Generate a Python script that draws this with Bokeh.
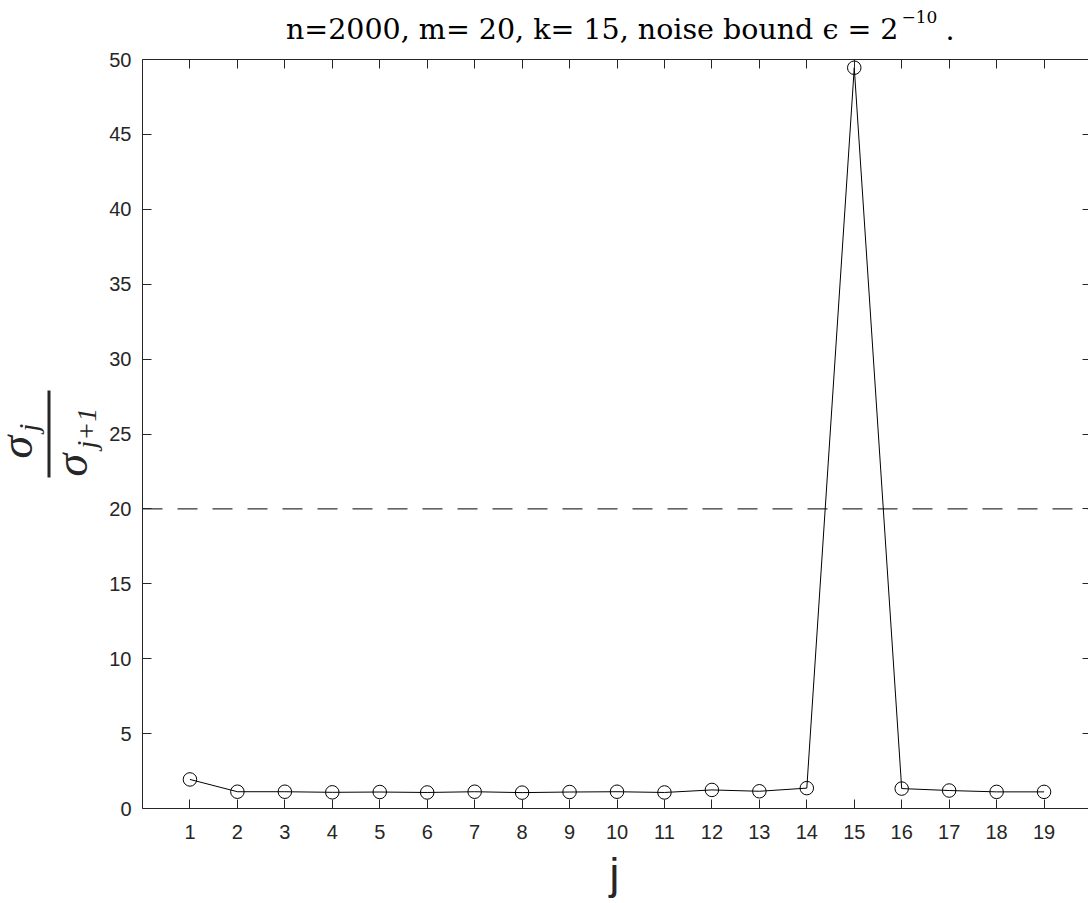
from bokeh.plotting import figure
from bokeh.models import (Range1d, LinearAxis, FixedTicker, Label, Arrow,
                          CustomLabelingPolicy)
from bokeh.embed import file_html
from bokeh.resources import INLINE

# ---- data ----
j_values = list(range(1, 20))
ratios = [1.94, 1.12, 1.12, 1.08, 1.10, 1.07, 1.12, 1.06, 1.10, 1.12,
          1.07, 1.24, 1.15, 1.36, 49.45, 1.33, 1.20, 1.11, 1.11]
threshold = 20
x_lim = [0, 20]
y_lim = [0, 50]
x_ticks = list(range(1, 20))
y_ticks = [0, 5, 10, 15, 20, 25, 30, 35, 40, 45, 50]
title_main = "n=2000, m= 20, k= 15, noise bound \u03f5 = 2"
title_sup = "\u221210"
title_end = "."
xlabel = "j"

AX = "#262626"
W, H = 1088, 902
# axes box in page pixels
L, R, T, B = 142, 1091, 59, 808
xs = (R - L) / (x_lim[1] - x_lim[0])
ys = (B - T) / (y_lim[1] - y_lim[0])

p = figure(width=W, height=H, min_border=0,
           x_range=Range1d(x_lim[0] - L / xs, x_lim[0] + (W - L) / xs),
           y_range=Range1d(y_lim[0] - (H - B) / ys, y_lim[1] + T / ys),
           output_backend="svg", toolbar_location=None,
           x_axis_type=None, y_axis_type=None,
           background_fill_color="white", border_fill_color="white")
p.outline_line_color = None
p.grid.visible = False

no_labels = CustomLabelingPolicy(
    code="for (let i = 0; i < indices.size; i++) { indices.unset(i) } return indices")

def mk_axis(ticks, loc, bounds, labels=True):
    ax = LinearAxis(ticker=FixedTicker(ticks=ticks), fixed_location=loc, bounds=bounds)
    ax.axis_line_color = AX
    ax.major_tick_line_color = AX
    ax.major_tick_in = 9
    ax.major_tick_out = 0
    ax.minor_tick_line_color = None
    ax.major_label_text_color = AX
    ax.major_label_text_font = "Liberation Sans"
    ax.major_label_text_font_size = "20px"
    if not labels:
        ax.major_label_policy = no_labels
    return ax

xb = mk_axis(x_ticks, y_lim[0], tuple(x_lim))
xb.major_label_standoff = 16
yl = mk_axis(y_ticks, x_lim[0], tuple(y_lim))
yl.major_label_standoff = 11
xt = mk_axis(x_ticks, y_lim[1], tuple(x_lim), labels=False)
yr = mk_axis(y_ticks, x_lim[1], tuple(y_lim), labels=False)
yr.axis_line_color = None
p.add_layout(xb, "below")
p.add_layout(yl, "left")
p.add_layout(xt, "above")
p.add_layout(yr, "right")

# threshold line
p.segment(x0=x_lim[0], y0=threshold, x1=x_lim[1], y1=threshold,
          line_color="black", line_width=1, line_dash="20 15")

# data
p.line(j_values, ratios, line_color="black", line_width=1)
p.scatter(j_values, ratios, marker="circle", size=13.5, fill_alpha=0,
          line_color="black", line_width=1)

K = 0.38  # baseline correction (fraction of font size)

def lab(px, py, t, size, font="DejaVu Serif", align="left", angle=0, style="normal",
        color="black"):
    # px, py: desired baseline anchor in page pixels
    if angle == 0:
        py = py - K * size
    else:
        px = px - K * size
    p.add_layout(Label(x=px, y=H - py, x_units="screen", y_units="screen", text=t,
                       angle=angle, angle_units="deg", text_align=align,
                       text_baseline="alphabetic", text_font=font,
                       text_font_style=style, text_font_size=f"{size}px",
                       text_color=color))

# title
lab(898, 40, title_main, 28.5, align="right")
lab(901, 23, title_sup, 17)
lab(945, 40, title_end, 28.5)

# x label
lab(614, 890, xlabel, 44, font="Liberation Sans", align="center", color=AX)

# y label: sigma_j / sigma_{j+1}, rotated
lab(33, 458, "\u03c3", 46, font="Liberation Serif", angle=90, style="italic", color=AX)
lab(39, 431, "j", 28, font="Liberation Serif", angle=90, style="italic", color=AX)
lab(88, 476, "\u03c3", 46, font="Liberation Serif", angle=90, style="italic", color=AX)
lab(97, 448, "j+1", 28, font="Liberation Serif", angle=90, style="italic", color=AX)
p.add_layout(Arrow(x_start=48.5, y_start=H - 477, x_end=48.5, y_end=H - 390,
                   start_units="screen", end_units="screen", start=None, end=None,
                   line_color=AX, line_width=3))

open("out.html", "w").write(file_html(p, INLINE))
